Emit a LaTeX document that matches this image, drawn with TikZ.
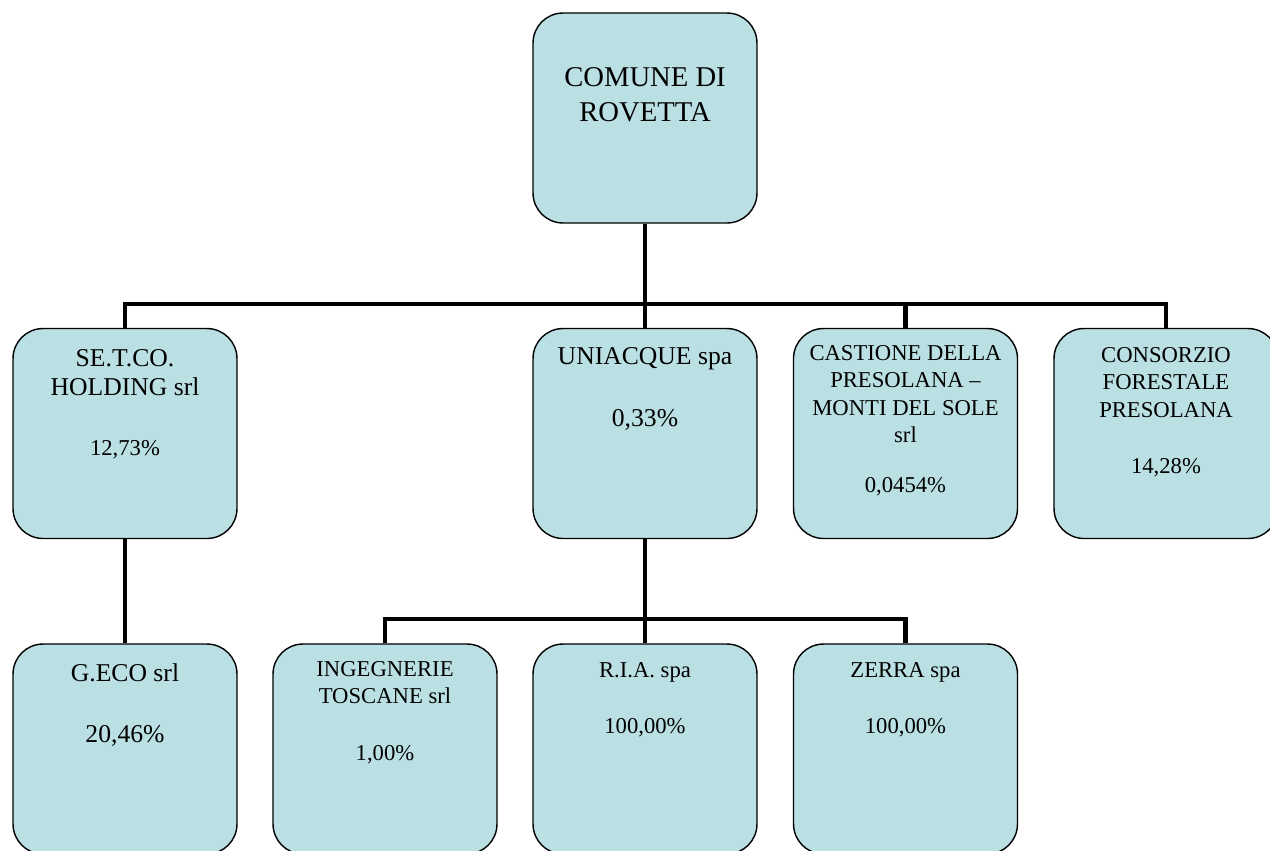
\documentclass[tikz,border=0pt]{standalone}
\usepackage{fontspec}
\setmainfont{Liberation Serif}
\usepackage{tikz}
\usetikzlibrary{calc, positioning}

\definecolor{boxblue}{RGB}{187,224,227}

\tikzset{
    unit/.style={draw, line width=0.8pt, fill=boxblue, rounded corners=0.6cm,
        minimum width=4.48cm, minimum height=4.2cm, inner sep=0pt},
    link/.style={line width=2.8pt},
    bigtxt/.style={inner sep=0pt, align=center, anchor=north,
        font=\fontsize{16.3pt}{19.8pt}\selectfont},
    midtxt/.style={inner sep=0pt, align=center,
        font=\fontsize{14.6pt}{16.4pt}\selectfont},
    smltxt/.style={inner sep=0pt, align=center,
        font=\fontsize{12.9pt}{15.6pt}\selectfont}
}

\begin{document}
\begin{tikzpicture}[x=0.02cm, y=-0.02cm]
                    \useasboundingbox (0,0) rectangle (1270,850);

                    % boxes
                    \node[unit] (comune) at (645,118) {};
                    \node[unit] (setco) at (125,433.5) {};
                    \node[unit] (uniacque) at (645,433.5) {};
                    \node[unit] (castione) at (905.5,433.5) {};
                    \node[unit] (consorzio) at (1166,433.5) {};
                    \node[unit] (geco) at (125,749) {};
                    \node[unit] (ingegnerie) at (385,749) {};
                    \node[unit] (ria) at (645,749) {};
                    \node[unit] (zerra) at (905.5,749) {};

                    % connectors
                    \coordinate (busA) at (645,304);
                    \coordinate (busB) at (645,619);
                    \draw[link] (comune) -- (busA);
                    \draw[link] (setco.north) |- (busA) -| (consorzio.north);
                    \draw[link] (busA) -- (uniacque.north);
                    \draw[link] (castione.north |- busA) -- (castione.north);
                    \draw[link] (setco) -- (geco);
                    \draw[link] (uniacque) -- (busB);
                    \draw[link] (ingegnerie.north) |- (busB) -| (zerra.north);
                    \draw[link] (busB) -- (ria.north);

                    % names
                    \node[bigtxt] (comune-t) at (645,67) {COMUNE DI\\ROVETTA};
                    \node[midtxt, anchor=north] (setco-t) at (125,349) {SE.T.CO.\\HOLDING srl};
                    \node[midtxt, anchor=north] (uniacque-t) at (645,347) {UNIACQUE spa};
                    \node[smltxt, anchor=north] (castione-t) at (905.5,345) {CASTIONE DELLA\\PRESOLANA --\\MONTI DEL SOLE\\srl};
                    \node[smltxt, anchor=north] (consorzio-t) at (1166,347) {CONSORZIO\\FORESTALE\\PRESOLANA};
                    \node[midtxt, anchor=north] (geco-t) at (125,663) {G.ECO srl};
                    \node[smltxt, anchor=north] (ingegnerie-t) at (385,661) {INGEGNERIE\\TOSCANE srl};
                    \node[smltxt, anchor=north] (ria-t) at (645,662) {R.I.A. spa};
                    \node[smltxt, anchor=north] (zerra-t) at (905.5,662) {ZERRA spa};

                    % shares
                    \node[smltxt, anchor=base] (setco-p) at (125,455) {12,73\%};
                    \node[midtxt, anchor=base] (uniacque-p) at (645,426) {0,33\%};
                    \node[smltxt, anchor=base] (castione-p) at (905.5,492) {0,0454\%};
                    \node[smltxt, anchor=base] (consorzio-p) at (1166,473) {14,28\%};
                    \node[midtxt, anchor=base] (geco-p) at (125,742) {20,46\%};
                    \node[smltxt, anchor=base] (ingegnerie-p) at (385,760) {1,00\%};
                    \node[smltxt, anchor=base] (ria-p) at (645,733) {100,00\%};
                    \node[smltxt, anchor=base] (zerra-p) at (905.5,733) {100,00\%};
                \end{tikzpicture}
\end{document}
